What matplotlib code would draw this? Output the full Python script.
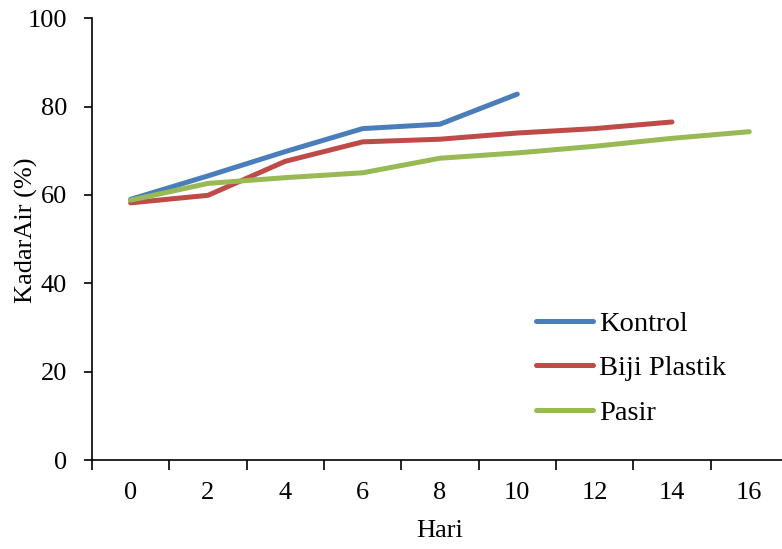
import numpy as np
import matplotlib
matplotlib.use('Agg')
import matplotlib.pyplot as plt

plt.rcParams['font.family'] = ['Liberation Serif', 'DejaVu Serif']

# Kadar air (%) per hari
hari_kontrol = [0, 2, 4, 6, 8, 10]
kontrol = [59.0, 64.3, 69.8, 75.0, 76.0, 82.8]

hari_biji = [0, 2, 4, 6, 8, 10, 12, 14]
biji_plastik = [58.2, 59.9, 67.6, 72.0, 72.6, 74.0, 75.0, 76.5]

hari_pasir = [0, 2, 4, 6, 8, 10, 12, 14, 16]
pasir = [58.8, 62.6, 63.9, 65.0, 68.3, 69.5, 71.0, 72.8, 74.3]

hari_labels = [0, 2, 4, 6, 8, 10, 12, 14, 16]

FS = 19

fig = plt.figure(figsize=(7.82, 5.49), dpi=100)
ax = fig.add_axes([0.1176, 0.162, 0.89, 0.805])

ax.plot(hari_kontrol, kontrol, color='#4a7ebb', lw=3.6, label='Kontrol', solid_capstyle='round')
ax.plot(hari_biji, biji_plastik, color='#be4b48', lw=3.6, label='Biji Plastik', solid_capstyle='round')
ax.plot(hari_pasir, pasir, color='#98b954', lw=3.6, label='Pasir', solid_capstyle='round')

ax.set_xlim(-1, 17)
ax.set_ylim(0, 100)
ax.set_yticks(np.arange(0, 101, 20))
ax.set_xticks(np.arange(-1, 18, 2))
ax.set_xticklabels([])
ax.set_xticks(hari_labels, minor=True)
ax.set_xticklabels([str(h) for h in hari_labels], minor=True)
ax.tick_params(axis='x', which='major', direction='out', length=7, width=1.2)
ax.tick_params(axis='x', which='minor', length=0, pad=16, labelsize=FS)
ax.tick_params(axis='y', direction='out', length=6, width=1.2, labelsize=FS, pad=12)

for s in ['top', 'right']:
    ax.spines[s].set_visible(False)
for s in ['left', 'bottom']:
    ax.spines[s].set_linewidth(1.2)

ax.set_xlabel('Hari', fontsize=FS, labelpad=11)
ax.set_ylabel('KadarAir (%)', fontsize=FS)
ax.yaxis.set_label_coords(-0.077, 0.52)

ax.legend(loc='upper left', bbox_to_anchor=(0.686, 0.434), bbox_transform=fig.transFigure,
          frameon=False, fontsize=20.5, handlelength=2.0, handletextpad=0.2,
          labelspacing=0.66, borderpad=0, borderaxespad=0)

fig.savefig('out.png', dpi=100)
